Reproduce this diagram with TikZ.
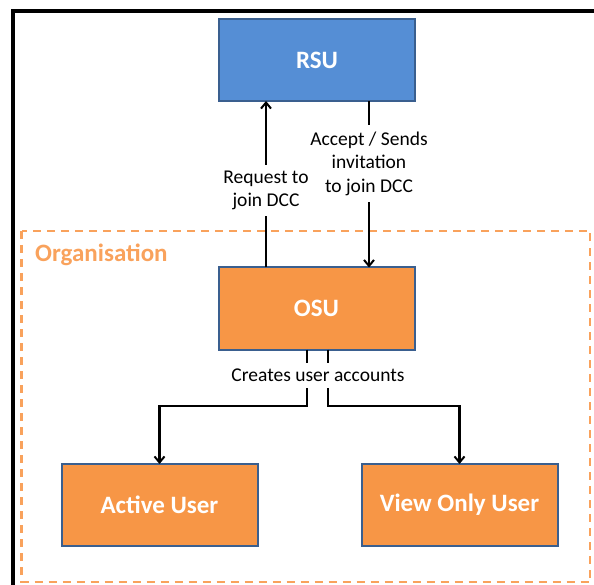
\documentclass[tikz,border=0pt]{standalone}
\usepackage{fontspec}
\setmainfont{Carlito}
\usetikzlibrary{arrows.meta}
\definecolor{rsublue}{HTML}{558ED5}
\definecolor{boxedge}{HTML}{3A5F8F}
\definecolor{osuorange}{HTML}{F79646}
\definecolor{orgorange}{HTML}{F9A25C}
\tikzset{
  unit/.style={draw=boxedge, line width=2pt, minimum width=196pt, minimum height=82pt,
    inner sep=0pt, outer sep=0pt, text=white, font=\fontsize{25}{29}\selectfont\bfseries},
  rsubox/.style={unit, fill=rsublue},
  orgbox/.style={unit, fill=osuorange},
  link/.style={line width=2.3pt, -{Straight Barb[length=6pt,width=10pt,line width=2pt]}},
  lab/.style={fill=white, align=center, inner xsep=2pt, font=\fontsize{19.5}{23.5}\selectfont},
}
\begin{document}
\begin{tikzpicture}[x=1pt, y=-1pt]
\useasboundingbox (0,0) rectangle (594,585);
% outer frame, running past the right and lower edges
\draw[line width=3.2pt] (13,600) -- (13,11) -- (610,11);
% organisation boundary
\draw[orgorange, line width=2.2pt, dash pattern=on 8pt off 6pt] (21.5,231) rectangle (590,582);
\node[text=orgorange, anchor=west, inner sep=0pt, font=\fontsize{25}{29}\selectfont\bfseries] (org) at (35,255) {Organisation};

% boxes
\node[rsubox] (rsu) at (317,60) {RSU};
\node[orgbox] (osu) at (316.5,308.5) {OSU};
\node[orgbox] (active) at (159.5,505) {Active User};
\node[orgbox] (view) at (459.5,505) {View Only User};

% routing columns
\coordinate (reqx) at (266,0);
\coordinate (accx) at (369,0);
\coordinate (splitl) at (307,406);
\coordinate (splitr) at (328,406);

% RSU <-> OSU
\draw[link] (osu.north -| reqx) -- (rsu.south -| reqx);
\draw[link] (rsu.south -| accx) -- (osu.north -| accx);

% OSU -> users
\draw[link] (osu.south -| splitl) -- (splitl) -- (splitl -| active.north) -- (active.north);
\draw[link] (osu.south -| splitr) -- (splitr) -- (splitr -| view.north) -- (view.north);

% connector labels
\node[lab, inner ysep=6pt] (req) at (266,190.5) {Request to\\join DCC};
\node[lab, inner ysep=7pt] (acc) at (369,163.5) {Accept / Sends\\invitation\\to join DCC};
\node[lab, inner ysep=6pt, inner xsep=1pt] (cre) at (318,375.5) {Creates user accounts};
\end{tikzpicture}
\end{document}
